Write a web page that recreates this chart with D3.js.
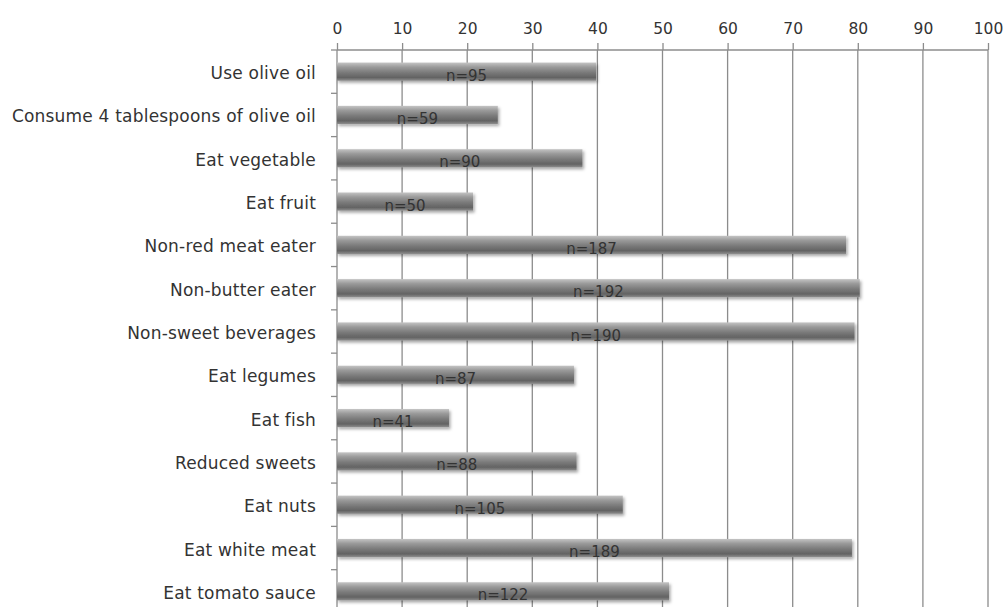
<!DOCTYPE html>
<html>
<head>
<meta charset="utf-8">
<script src="https://cdn.jsdelivr.net/npm/d3@7"></script>
<style>
  html, body { margin: 0; padding: 0; background: #fff; }
  svg { display: block; }
  text { font-family: "DejaVu Sans", "Lucida Grande", sans-serif; fill: #333; }
</style>
</head>
<body>
<svg id="chart" width="1006" height="607"></svg>
<script>
// Dietary behaviours (percent of respondents) with respondent counts
const categories = [
  "Use olive oil",
  "Consume 4 tablespoons of olive oil",
  "Eat vegetable",
  "Eat fruit",
  "Non-red meat eater",
  "Non-butter eater",
  "Non-sweet beverages",
  "Eat legumes",
  "Eat fish",
  "Reduced sweets",
  "Eat nuts",
  "Eat white meat",
  "Eat tomato sauce"
];
const percents = [39.8, 24.7, 37.7, 20.9, 78.2, 80.3, 79.5, 36.4, 17.2, 36.8, 43.9, 79.1, 51.0];
const counts = [95, 59, 90, 50, 187, 192, 190, 87, 41, 88, 105, 189, 122];
const xTicks = [0, 10, 20, 30, 40, 50, 60, 70, 80, 90, 100];

const svg = d3.select("#chart");
const plotLeft = 337, plotRight = 988, plotTop = 50, plotBottom = 613;

const x = d3.scaleLinear().domain([0, 100]).range([plotLeft, plotRight]);
const y = d3.scaleBand()
  .domain(categories)
  .range([plotTop, plotBottom])
  .paddingInner(0.58)
  .paddingOuter(0.29);

// Bar shading and shadow
const defs = svg.append("defs");
const grad = defs.append("linearGradient")
  .attr("id", "barShade").attr("x1", 0).attr("y1", 0).attr("x2", 0).attr("y2", 1);
[["0%", "#c4c4c4"], ["25%", "#9a9a9a"], ["55%", "#7a7a7a"], ["82%", "#636363"], ["100%", "#8e8e8e"]]
  .forEach(([o, c]) => grad.append("stop").attr("offset", o).attr("stop-color", c));
const shadow = defs.append("filter").attr("id", "barShadow")
  .attr("x", "-5%").attr("y", "-40%").attr("width", "110%").attr("height", "200%");
shadow.append("feDropShadow").attr("dx", 1.5).attr("dy", 2).attr("stdDeviation", 1.8)
  .attr("flood-color", "#000").attr("flood-opacity", 0.35);

// Vertical gridlines
svg.append("g").selectAll("line")
  .data(xTicks.slice(1))
  .join("line")
  .attr("x1", d => x(d)).attr("x2", d => x(d))
  .attr("y1", plotTop).attr("y2", 607)
  .attr("stroke", "#8c8c8c").attr("stroke-width", 1.3);

// Top axis
const xAxis = d3.axisTop(x).tickValues(xTicks).tickSize(7).tickPadding(9);
const gx = svg.append("g").attr("transform", `translate(0,${plotTop})`).call(xAxis);
gx.select(".domain").attr("stroke", "#8c8c8c").attr("stroke-width", 1.3)
  .attr("d", `M${plotLeft},0H${plotRight}`);
gx.selectAll(".tick line").attr("stroke", "#8c8c8c").attr("stroke-width", 1.3);
gx.selectAll(".tick text").attr("font-size", 15.5).attr("fill", "#333")
  .style("font-family", "\"DejaVu Sans\", sans-serif");

// Left axis line with ticks between categories
svg.append("line").attr("x1", plotLeft).attr("x2", plotLeft).attr("y1", plotTop).attr("y2", 607)
  .attr("stroke", "#8c8c8c").attr("stroke-width", 1.3);
const step = y.step();
svg.append("g").selectAll("line")
  .data(d3.range(categories.length + 1))
  .join("line")
  .attr("x1", plotLeft - 6).attr("x2", plotLeft)
  .attr("y1", i => plotTop + i * step).attr("y2", i => plotTop + i * step)
  .attr("stroke", "#8c8c8c").attr("stroke-width", 1.3);

// Category labels
svg.append("g").selectAll("text")
  .data(categories)
  .join("text")
  .attr("x", 316)
  .attr("y", d => y(d) + y.bandwidth() / 2 + 7.5)
  .attr("text-anchor", "end")
  .attr("font-size", 17)
  .attr("letter-spacing", 0.2)
  .text(d => d);

// Bars
svg.append("g").selectAll("rect")
  .data(categories)
  .join("rect")
  .attr("x", x(0))
  .attr("y", d => y(d))
  .attr("width", (d, i) => x(percents[i]) - x(0))
  .attr("height", y.bandwidth())
  .attr("fill", "url(#barShade)")
  .attr("filter", "url(#barShadow)");

// Count labels centred on each bar
svg.append("g").selectAll("text")
  .data(categories)
  .join("text")
  .attr("x", (d, i) => (x(0) + x(percents[i])) / 2)
  .attr("y", d => y(d) + y.bandwidth() / 2 + 9)
  .attr("text-anchor", "middle")
  .attr("font-size", 15)
  .attr("fill", "#2a2a2a")
  .text((d, i) => "n=" + counts[i]);
</script>
</body>
</html>
